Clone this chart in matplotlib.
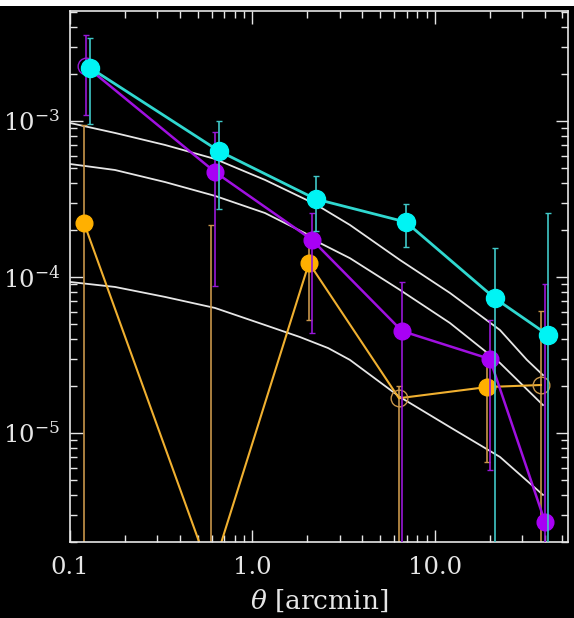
import matplotlib
matplotlib.use("Agg")
from matplotlib import pyplot as plt
from matplotlib import ticker
from matplotlib.patches import Rectangle

# angular bins [arcmin] and correlation amplitudes
theta_cyan = [0.129, 0.655, 2.22, 6.93, 21.3, 41.6]
w_cyan = [2.19e-3, 6.42e-4, 3.16e-4, 2.25e-4, 7.3e-5, 4.25e-5]
cyan_hi = [3.40e-3, 1.0e-3, 4.44e-4, 2.94e-4, 1.53e-4, 2.57e-4]
cyan_lo = [9.57e-4, 2.73e-4, 1.97e-4, 1.56e-4, 1e-8, 1e-8]

theta_purple = [0.122, 0.623, 2.12, 6.6, 20.0, 40.1]
w_purple = [2.25e-3, 4.71e-4, 1.73e-4, 4.5e-5, 2.98e-5, 2.69e-6]
purple_hi = [3.56e-3, 8.5e-4, 2.57e-4, 9.29e-5, 5.3e-5, 9.0e-5]
purple_lo = [1.09e-3, 8.75e-5, 4.37e-5, 1e-8, 5.8e-6, 1e-8]
purple_open = [True, False, False, False, False, False]

theta_orange = [0.1193, 0.593, 2.04, 6.35, 19.3, 38.1]
w_orange = [2.22e-4, 1.23e-6, 1.23e-4, 1.67e-5, 1.97e-5, 2.03e-5]
orange_hi = [9.4e-4, 2.16e-4, 1.9e-4, 2.0e-5, 3.3e-5, 6.05e-5]
orange_lo = [1e-8, 1e-8, 5.3e-5, 1e-8, 6.5e-6, 1e-8]
orange_open = [False, False, False, True, False, True]

# model curves (white)
model_a_x = [0.1, 0.1765, 0.3316, 0.623, 1.171, 2.2, 3.42, 6.43, 12.08, 22.71, 31.92, 39.07]
model_a_y = [9.71e-4, 8.38e-4, 7.02e-4, 5.71e-4, 4.19e-4, 2.94e-4, 2.155e-4, 1.285e-4,
             7.9e-5, 4.57e-5, 2.94e-5, 2.35e-5]
model_b_x = [0.1, 0.1765, 0.3316, 0.623, 1.171, 1.941, 2.344, 3.42, 6.43, 12.08, 22.71, 39.07]
model_b_y = [5.30e-4, 4.85e-4, 4.06e-4, 3.31e-4, 2.57e-4, 1.91e-4, 1.65e-4, 1.32e-4,
             8.26e-5, 5.07e-5, 2.81e-5, 1.51e-5]
model_c_x = [0.1, 0.1765, 0.3316, 0.623, 1.171, 1.821, 2.6, 3.42, 6.43, 12.08, 22.71, 39.07]
model_c_y = [9.29e-5, 8.63e-5, 7.45e-5, 6.33e-5, 4.92e-5, 4.12e-5, 3.5e-5, 2.94e-5, 1.70e-5,
             1.09e-5, 7.02e-6, 4.01e-6]

FG = "#e6e6e6"

plt.rcParams["font.family"] = ["DejaVu Serif"]
plt.rcParams["mathtext.fontset"] = "dejavuserif"

fig = plt.figure(figsize=(5.74, 6.18), dpi=100, facecolor="black")
fig.patches.append(Rectangle((0, 1 - 6 / 618), 1, 6 / 618, transform=fig.transFigure,
                             facecolor="white", edgecolor="none"))
ax = fig.add_axes([70 / 574, 76 / 618, 498 / 574, 531 / 618])
ax.set_facecolor("black")
ax.set_xscale("log")
ax.set_yscale("log")

for mx, my in [(model_a_x, model_a_y), (model_b_x, model_b_y), (model_c_x, model_c_y)]:
    ax.plot(mx, my, color=FG, lw=1.3, zorder=1)


def DrawSeries(p_x, p_y, p_lo, p_hi, p_open, p_line, p_bar, p_mark, p_lw, p_ms, p_z):
    err = [[y - lo for y, lo in zip(p_y, p_lo)], [hi - y for y, hi in zip(p_y, p_hi)]]
    ax.errorbar(p_x, p_y, yerr=err, fmt="none", ecolor=p_bar, elinewidth=1.2,
                capsize=2.5, capthick=1.0, zorder=p_z)
    ax.plot(p_x, p_y, color=p_line, lw=p_lw, zorder=p_z + 0.1)
    for x, y, o in zip(p_x, p_y, p_open):
        if o:
            ax.plot(x, y, "o", ms=p_ms, mfc="none", mec=p_bar, mew=1.0, zorder=p_z + 0.2)
        else:
            ax.plot(x, y, "o", ms=p_ms, mfc=p_mark, mec=p_mark, zorder=p_z + 0.2)


DrawSeries(theta_orange, w_orange, orange_lo, orange_hi, orange_open,
           "#f0b030", "#c8964a", "#ffb000", 1.5, 12, 2)
DrawSeries(theta_purple, w_purple, purple_lo, purple_hi, purple_open,
           "#a010e0", "#9818d8", "#a800f5", 1.8, 12, 3)
DrawSeries(theta_cyan, w_cyan, cyan_lo, cyan_hi, [False] * 6,
           "#30d8d0", "#40c8c8", "#00f4f4", 2.0, 13, 4)

ax.set_xlim(0.1, 53.6)
ax.set_ylim(2.0e-6, 5.07e-3)

ax.xaxis.set_major_locator(ticker.FixedLocator([0.1, 1.0, 10.0]))
ax.xaxis.set_major_formatter(ticker.FixedFormatter(["0.1", "1.0", "10.0"]))
ax.xaxis.set_minor_locator(ticker.LogLocator(base=10, subs=range(2, 10), numticks=20))
ax.xaxis.set_minor_formatter(ticker.NullFormatter())
ax.yaxis.set_major_locator(ticker.FixedLocator([1e-5, 1e-4, 1e-3]))
ax.yaxis.set_major_formatter(ticker.FixedFormatter([r"$10^{-5}$", r"$10^{-4}$", r"$10^{-3}$"]))
ax.yaxis.set_minor_locator(ticker.LogLocator(base=10, subs=range(2, 10), numticks=20))
ax.yaxis.set_minor_formatter(ticker.NullFormatter())

ax.tick_params(which="both", direction="in", top=True, right=True, colors=FG,
               labelcolor=FG, labelsize=17.5, width=1.0)
ax.tick_params(which="major", length=9, pad=10)
ax.tick_params(axis="y", which="major", pad=7)
ax.tick_params(which="minor", length=5)
for s in ax.spines.values():
    s.set_color(FG)
    s.set_linewidth(1.2)

ax.set_xlabel(r"$\theta$ [arcmin]", color=FG, fontsize=19, labelpad=6)

fig.savefig("out.png", dpi=100, facecolor="black")
